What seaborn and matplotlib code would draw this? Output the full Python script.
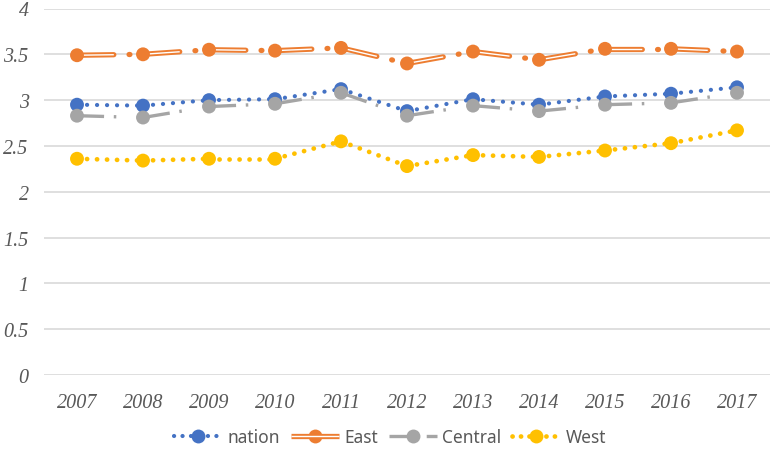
import matplotlib
matplotlib.use("Agg")
import matplotlib.pyplot as plt
from matplotlib.lines import Line2D
from matplotlib.legend_handler import HandlerLine2D
from matplotlib.font_manager import FontProperties
import pandas as pd
import seaborn as sns

# values
years = [2007, 2008, 2009, 2010, 2011, 2012, 2013, 2014, 2015, 2016, 2017]
nation = [2.95, 2.94, 3.00, 3.01, 3.12, 2.88, 3.01, 2.95, 3.04, 3.07, 3.14]
east = [3.49, 3.50, 3.55, 3.54, 3.57, 3.40, 3.53, 3.44, 3.56, 3.56, 3.53]
central = [2.83, 2.81, 2.93, 2.96, 3.08, 2.83, 2.94, 2.88, 2.95, 2.97, 3.08]
west = [2.36, 2.34, 2.36, 2.36, 2.55, 2.28, 2.40, 2.38, 2.45, 2.53, 2.67]
y_ticks = [0, 0.5, 1, 1.5, 2, 2.5, 3, 3.5, 4]
y_labels = ["0", "0.5", "1", "1.5", "2", "2.5", "3", "3.5", "4"]

colors = {"nation": "#4472C4", "East": "#ED7D31", "Central": "#A5A5A5", "West": "#FFC000"}

rows = []
for name, vals in [("nation", nation), ("East", east), ("Central", central), ("West", west)]:
    for i, v in enumerate(vals):
        rows.append({"pos": i, "year": years[i], "value": v, "region": name})
df = pd.DataFrame(rows)

sns.set_style("white")
plt.rcParams["lines.scale_dashes"] = False
plt.rcParams["font.family"] = ["Liberation Serif", "DejaVu Serif"]
plt.rcParams["font.style"] = "italic"

fig = plt.figure(figsize=(7.75, 4.52), dpi=100)
ax = fig.add_axes([44 / 775, 76 / 452, 726 / 775, 366.5 / 452])

# line styles per series; each segment restarts its dash pattern like Excel does
styles = {
    "nation": [dict(lw=3.0, ls=(0, (0.1, 7.1)), cap="round", color=colors["nation"])],
    "East": [dict(lw=3.8, ls=(0, (26.5, 11, 0.6, 10.5)), cap="round", color=colors["East"]),
             dict(lw=1.0, ls=(0, (26.5, 22)), cap="butt", color="white")],
    "Central": [dict(lw=2.4, ls=(0, (19.5, 7.0, 1.8, 19.5)), cap="butt", color=colors["Central"])],
    "West": [dict(lw=3.4, ls=(0, (0.1, 7.1)), cap="round", color=colors["West"])],
}

for name in ["nation", "East", "Central", "West"]:
    sub = df[df["region"] == name].reset_index(drop=True)
    for i in range(len(sub) - 1):
        seg = sub.iloc[i:i + 2]
        for st in styles[name]:
            sns.lineplot(data=seg, x="pos", y="value", ax=ax, color=st["color"],
                         linewidth=st["lw"], linestyle=st["ls"], dash_capstyle=st["cap"],
                         solid_capstyle=st["cap"], legend=False, zorder=2)
    sns.scatterplot(data=sub, x="pos", y="value", ax=ax, color=colors[name], s=100,
                    edgecolor="none", legend=False, zorder=3)

ax.set_xlim(-0.5, len(years) - 0.5)
ax.set_ylim(0, 4)
ax.set_xticks(range(len(years)))
ax.set_xticklabels([str(y) for y in years])
ax.set_yticks(y_ticks)
ax.set_yticklabels(y_labels)
ax.yaxis.grid(True, color="#D9D9D9", linewidth=1.2)
ax.xaxis.grid(False)
ax.set_axisbelow(True)
for sp in ax.spines.values():
    sp.set_visible(False)
ax.tick_params(axis="both", length=0, colors="#595959", labelsize=14.5,
               labelfontfamily="Liberation Serif")
ax.tick_params(axis="x", pad=13)
ax.tick_params(axis="y", pad=11)
ax.set_xlabel("")
ax.set_ylabel("")


class DoubleLineHandler(HandlerLine2D):
    # compound (double) line for the East legend entry
    def create_artists(self, legend, orig_handle, xdescent, ydescent, width, height, fontsize, trans):
        arts = super().create_artists(legend, orig_handle, xdescent, ydescent, width, height, fontsize, trans)
        line = arts[0]
        inner = Line2D(line.get_xdata(), line.get_ydata(), color="white", lw=1.0, solid_capstyle="butt")
        inner.set_transform(trans)
        return [arts[0], inner] + list(arts[1:])


h_nation = Line2D([], [], color=colors["nation"], lw=3.0, ls=(0, (0.1, 6)), dash_capstyle="round",
                  marker="o", markersize=10, markeredgewidth=0)
h_east = Line2D([], [], color=colors["East"], lw=3.8, solid_capstyle="butt",
                marker="o", markersize=10, markeredgewidth=0)
h_central = Line2D([], [], color=colors["Central"], lw=2.4, ls=(0, (14, 6, 1.8, 5)),
                   marker="o", markersize=10, markeredgewidth=0)
h_west = Line2D([], [], color=colors["West"], lw=3.4, ls=(0, (0.1, 6)), dash_capstyle="round",
                marker="o", markersize=10, markeredgewidth=0)

fig.legend([h_nation, h_east, h_central, h_west], ["nation", "East", "Central", "West"],
           handler_map={h_east: DoubleLineHandler()},
           loc="center", bbox_to_anchor=(390 / 775, 1 - 438 / 452), ncol=4, frameon=False,
           prop=FontProperties(family=["Noto Sans", "DejaVu Sans"], style="normal", size=12.5),
           labelcolor="#595959", handlelength=2.8, handletextpad=0.3, columnspacing=0.6)

# make sure the tick labels end up in italic serif
fig.canvas.draw()
tick_font = FontProperties(family="Liberation Serif", style="italic", size=14.5)
for lab in ax.get_xticklabels() + ax.get_yticklabels():
    lab.set_fontproperties(tick_font)

fig.savefig("out.png", dpi=100)
